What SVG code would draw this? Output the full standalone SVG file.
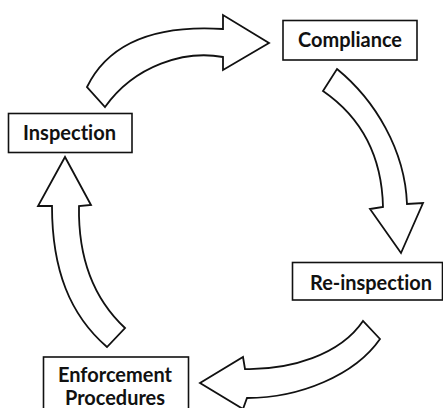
<svg xmlns="http://www.w3.org/2000/svg" width="443" height="408" viewBox="0 0 443 408">
<style>
.box{fill:#fff;stroke:#111;stroke-width:1.6}
.arr{fill:#fff;stroke:#111;stroke-width:1.8;stroke-linejoin:miter}
.lbl{font-family:Lato,"Open Sans","Liberation Sans",sans-serif;font-weight:bold;font-size:21px;fill:#111;font-variant-ligatures:none}
</style>
<rect width="443" height="408" fill="#fff"/>
<g id="connectors">
<path class="arr" d="M87,87 C110,40 160,25 223,29 L223,15 L269,43 L223,70 L223,57 C185,50 135,65 105,107 Z"/>
<path class="arr" d="M337,69 C375,100 405,150 407,204 L423,203 L401,253 L370,209 L383,207 C382,160 365,120 323,91 Z"/>
<path class="arr" d="M380,339 C355,375 300,398 247,398 L243,409 L200,383 L243,357 L245,369 C290,370 340,355 363,321 Z"/>
<path class="arr" d="M107,347 C70,315 52,270 52,206 L38,206 L65,157 L91,205 L79,206 C78,260 95,300 125,328 Z"/>
</g>
<g id="compliance">
<rect class="box" x="283" y="20.5" width="134" height="39.5"/>
<text class="lbl" x="298" y="46.5" textLength="104" lengthAdjust="spacingAndGlyphs">Compliance</text>
</g>
<g id="inspection">
<rect class="box" x="8.5" y="113.5" width="123.5" height="39"/>
<text class="lbl" x="23" y="139.5" textLength="93" lengthAdjust="spacingAndGlyphs">Inspection</text>
</g>
<g id="reinspection">
<rect class="box" x="292.5" y="262.5" width="150" height="37.5"/>
<text class="lbl" x="310" y="290" textLength="122" lengthAdjust="spacingAndGlyphs">Re-inspection</text>
</g>
<g id="enforcement">
<rect class="box" x="43.5" y="357" width="145" height="52"/>
<text class="lbl" x="58" y="382" textLength="114" lengthAdjust="spacingAndGlyphs">Enforcement</text>
<text class="lbl" x="65" y="405" textLength="100" lengthAdjust="spacingAndGlyphs">Procedures</text>
</g>
</svg>
